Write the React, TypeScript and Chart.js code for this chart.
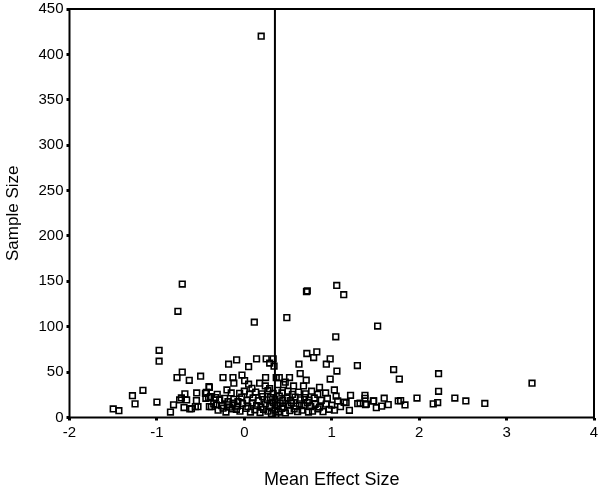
import React, { useEffect, useRef } from "react";
import { Chart, registerables } from "chart.js";

Chart.register(...registerables);

// Mean effect size (x) and sample size (y) of each study
const effectSize: number[] = [
  // isolated / left side
  -1.5, -1.435, -1.28, -1.25, -1.16, -1.0, -0.975, -0.975, -0.845, -0.81,
  -0.76, -0.71, -0.71, -0.77, -0.63, -0.5, -0.72, -0.68, -0.69, -0.605,
  -0.545, -0.548, -0.56, -0.445, -0.4, -0.41, -0.4, -0.74, -0.66, -0.624,
  -0.53, -0.434, -0.388, -0.44, -0.377, -0.32, -0.31, -0.282, -0.225, -0.187,
  -0.244, -0.168, -0.091, -0.13, -0.073, -0.199, -0.054, 0.049, 0.087, 0.175,
  0.24, 0.289, -0.404, -0.18, -0.088, 0.14, 0.049, 0.114, 0.193, -0.244,
  -0.13, -0.027, -0.12, 0.003, 0.243, 0.365, 0.25, 0.33, 0.29, 0.34,
  // right side
  0.4, 0.517, 0.468, 0.563, 0.677, 0.449, 0.486, 0.711, 0.72, 1.057,
  1.137, 1.525, 1.046, 0.715, 0.829, 0.793, 0.982, 0.938, 0.625, 1.293,
  1.059, 1.708, 1.773, 0.639, 0.708, 0.982, 0.86, 1.03, 1.05, 1.215,
  1.38, 1.48, 1.6, 1.761, 1.838, 1.975, 1.51, 1.571, 1.646, 1.385,
  1.297, 1.202, 1.142, 1.031, 0.734, 0.842, 0.936, 2.222, 3.291, 2.222,
  2.408, 2.534, 2.751, 2.161, 2.212, 1.788, 1.38, 1.068, 1.164, 1.324,
  1.396, 1.476,
  // dense cluster
  -0.3, -0.21, -0.14, -0.05, 0.02, 0.07, 0.12, 0.18, 0.22, 0.27,
  0.31, 0.35, 0.39, 0.43, 0.47, 0.52, 0.57, 0.61, 0.66, 0.78,
  0.9, 0.97, -0.35, -0.26, -0.18, -0.08, -0.02, 0.04, 0.09, 0.14,
  0.19, 0.24, 0.29, 0.33, 0.37, 0.41, 0.45, 0.5, 0.54, 0.59,
  0.63, 0.68, 0.72, 0.76, 0.81, 0.86, 1.0, 1.1, -0.33, -0.12,
  -0.03, 0.03, 0.1, 0.16, 0.21, 0.26, 0.3, 0.35, 0.4, 0.44,
  0.49, 0.53, 0.58, 0.64, 0.69, 0.74, 0.8, 0.88, 0.95, -0.15,
  0.0, 0.06, 0.13, 0.2, 0.27, 0.33, 0.38, 0.43, 0.5, 0.55,
  0.62, 0.7, 0.77, 0.84, 0.93, 0.36,
];

const sampleSize: number[] = [
  // isolated / left side
  9.4, 7.5, 24, 15, 30, 17, 74, 62, 6, 14,
  117, 147, 50, 44, 41, 45.5, 21.5, 26, 11, 9.7,
  27, 18.6, 12, 26.7, 33.3, 22, 12, 19.3, 19.3, 9.4,
  11.9, 27.8, 23, 21.2, 11.9, 13.8, 25.6, 19.3, 21.2, 17.4,
  10.2, 11.3, 9, 15.7, 17.4, 30.4, 26.7, 36.7, 32.2, 37.8,
  34.8, 31.8, 34, 58.7, 63.5, 64.6, 56, 105, 420, 44,
  44, 46.8, 37.8, 40.6, 44, 44, 64.6, 64.6, 60, 56.5,
  // right side
  44, 44, 38.9, 34.8, 34.8, 36.2, 110, 138.6, 139.5, 145.5,
  135.3, 100.7, 88.9, 70.5, 72.3, 66, 64.6, 58.7, 58.7, 57.2,
  51.2, 52.8, 42.4, 48.4, 41.1, 42.4, 33.3, 30.4, 23.5, 24.5,
  24.5, 18.2, 21.3, 18.2, 13.8, 21.4, 10.8, 12.5, 14.2, 14.2,
  15.2, 7.9, 16.8, 8, 6, 9.5, 14.6, 48.2, 37.8, 28.9,
  21.4, 18.2, 15.5, 15, 16.5, 18.6, 21.2, 18.2, 16.3, 15.7,
  14.6, 18.2,
  // dense cluster
  8, 6, 9.5, 7, 10, 6, 8.5, 5.5, 9, 7,
  4.5, 8, 6, 10, 5, 7.5, 9.5, 6.5, 8, 7,
  6.5, 9, 15, 13, 14, 12.5, 15.5, 12, 16, 13,
  11.5, 15, 12, 16.5, 13, 15.5, 12, 14, 16, 12.5,
  15, 13, 16.5, 12, 14.5, 11.5, 13.5, 12, 22, 20,
  22.5, 19, 21.5, 18.5, 23, 19.5, 22, 20, 23.5, 19,
  21.5, 18.5, 22.5, 19.5, 22, 19, 21.5, 19, 21, 27,
  29, 25.5, 28, 26, 29.5, 26.5, 30, 27, 29, 25.5,
  28, 26, 29, 25.5, 27, 3,
];

const meanEffect = 0.35;
const xTickValues = [-2, -1, 0, 1, 2, 3, 4];
const yTickValues = [0, 50, 100, 150, 200, 250, 300, 350, 400, 450];
const xTitle = "Mean Effect Size";
const yTitle = "Sample Size";

const FONT = "'Liberation Sans', Arial, sans-serif";

const framePlugin = {
  id: "frame",
  afterDatasetsDraw(chart: any) {
    const { ctx, chartArea } = chart;
    const { left, top, right, bottom } = chartArea;
    ctx.save();
    ctx.strokeStyle = "#000";
    ctx.lineWidth = 2;
    ctx.strokeRect(left, top, right - left, bottom - top);
    ctx.restore();
  },
};

export default function App() {
  const canvasRef = useRef<HTMLCanvasElement | null>(null);

  useEffect(() => {
    document.body.style.margin = "0";
    const canvas = canvasRef.current;
    if (!canvas) return;

    const points = effectSize.map((x, i) => ({ x, y: sampleSize[i] }));

    const chart = new Chart(canvas, {
      type: "scatter",
      data: {
        datasets: [
          {
            type: "line",
            data: [
              { x: meanEffect, y: yTickValues[0] },
              { x: meanEffect, y: yTickValues[yTickValues.length - 1] },
            ],
            borderColor: "#000",
            borderWidth: 2,
            pointRadius: 0,
            fill: false,
          } as any,
          {
            data: points,
            pointStyle: "rect",
            pointRadius: 4,
            pointBorderWidth: 1.6,
            borderColor: "#000",
            backgroundColor: "rgba(0,0,0,0)",
            pointHoverRadius: 4,
          } as any,
        ],
      },
      options: {
        responsive: false,
        animation: false,
        events: [],
        layout: { padding: { top: 9, right: 6, left: 0, bottom: 0 } },
        plugins: { legend: { display: false }, tooltip: { enabled: false } },
        scales: {
          x: {
            type: "linear",
            min: xTickValues[0],
            max: xTickValues[xTickValues.length - 1],
            afterBuildTicks: (s: any) => {
              s.ticks = xTickValues.map((v) => ({ value: v }));
            },
            afterFit: (s: any) => {
              s.height = 73.5;
              s.paddingLeft = 0;
              s.paddingRight = 0;
            },
            grid: {
              display: true,
              drawOnChartArea: false,
              drawTicks: true,
              tickLength: 3,
              lineWidth: 3,
              color: "#000",
            },
            border: { display: false },
            ticks: {
              color: "#000",
              font: { family: FONT, size: 15 },
              padding: 3,
              maxRotation: 0,
            },
            title: {
              display: true,
              text: xTitle,
              color: "#000",
              font: { family: FONT, size: 18 },
              padding: { top: 0, bottom: 0 },
            },
          },
          y: {
            type: "linear",
            min: yTickValues[0],
            max: yTickValues[yTickValues.length - 1],
            afterBuildTicks: (s: any) => {
              s.ticks = yTickValues.map((v) => ({ value: v }));
            },
            afterFit: (s: any) => {
              s.width = 69.5;
              s.paddingTop = 0;
              s.paddingBottom = 0;
            },
            grid: {
              display: true,
              drawOnChartArea: false,
              drawTicks: true,
              tickLength: 3,
              lineWidth: 3,
              color: "#000",
            },
            border: { display: false },
            ticks: {
              color: "#000",
              font: { family: FONT, size: 15 },
              padding: 3,
            },
            title: {
              display: true,
              text: yTitle,
              color: "#000",
              font: { family: FONT, size: 17 },
              padding: { top: 3, bottom: 0 },
            },
          },
        },
      },
      plugins: [framePlugin],
    });

    return () => chart.destroy();
  }, []);

  return (
    <div style={{ width: 600, height: 491, background: "#fff" }}>
      <canvas ref={canvasRef} width={600} height={491} style={{ display: "block" }} />
    </div>
  );
}
